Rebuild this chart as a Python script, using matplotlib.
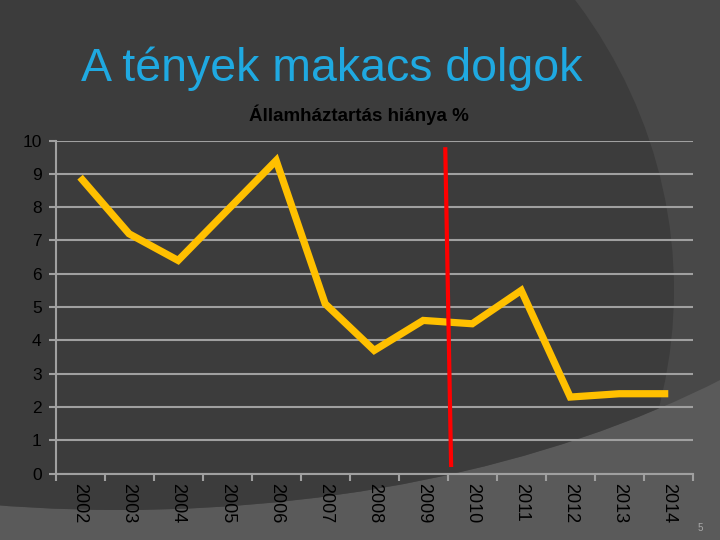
import numpy as np
import matplotlib.pyplot as plt
from matplotlib.patches import Ellipse

plt.rcParams['font.family'] = ['Liberation Sans', 'DejaVu Sans']

# data
years = ['2002', '2003', '2004', '2005', '2006', '2007', '2008',
         '2009', '2010', '2011', '2012', '2013', '2014']
deficit = [8.9, 7.2, 6.4, 7.9, 9.4, 5.1, 3.7, 4.6, 4.5, 5.5, 2.3, 2.4, 2.4]

# red marker line between 2009 and 2010 (category index units)
red_x = [7.45, 7.57]
red_y = [9.8, 0.2]

fig = plt.figure(figsize=(7.2, 5.4), dpi=100)
fig.patch.set_facecolor('#5a5a5a')

# slide background
bg = fig.add_axes([0, 0, 1, 1], zorder=0)
bg.set_xlim(0, 720)
bg.set_ylim(540, 0)
bg.axis('off')
outer = Ellipse((120, 0), 1800, 1020, color='#484848', lw=0)
bg.add_patch(outer)
inner = Ellipse((100, 290), 1148, 1034, color='#3c3c3c', lw=0)
bg.add_patch(inner)
inner.set_clip_path(outer)

fig.text(0.113, 0.872, 'A tények makacs dolgok', color='#1fa9e1',
         fontsize=33.5, ha='left', va='center')
fig.text(0.498, 0.787, 'Államháztartás hiánya %', color='black',
         fontsize=13.5, fontweight='bold', ha='center', va='center')
fig.text(0.973, 0.022, '5', color='#a8a8a8', fontsize=7, ha='center', va='center')

ax = fig.add_axes([0.0772, 0.1228, 0.885, 0.617], zorder=1)
ax.set_facecolor('none')

x = np.arange(len(years))
ax.plot(x, deficit, color='#ffc000', lw=5.2, solid_joinstyle='miter',
        solid_capstyle='butt', zorder=3)
ax.plot(red_x, red_y, color='#ff0000', lw=3, solid_capstyle='butt', zorder=4)

ax.set_xlim(-0.5, len(years) - 0.5)
ax.set_ylim(0, 10)
ax.set_yticks(range(0, 11))
ax.yaxis.grid(True, color='#a0a0a0', lw=1.5)
ax.set_axisbelow(True)

ax.set_xticks(np.arange(-0.5, len(years), 1.0))
ax.set_xticklabels([])
ax.set_xticks(x, minor=True)
ax.set_xticklabels(years, minor=True, rotation=270)
ax.tick_params(axis='x', which='minor', length=0, pad=7, labelsize=13)
ax.tick_params(axis='x', which='major', length=5, width=1.5, color='#a0a0a0')
ax.tick_params(axis='y', length=5, width=1.5, color='#a0a0a0', labelsize=12.5, pad=5)

for s in ['top', 'right']:
    ax.spines[s].set_visible(False)
for s in ['left', 'bottom']:
    ax.spines[s].set_color('#a0a0a0')
    ax.spines[s].set_linewidth(1.5)

fig.savefig('out.png', dpi=100, facecolor=fig.get_facecolor())
